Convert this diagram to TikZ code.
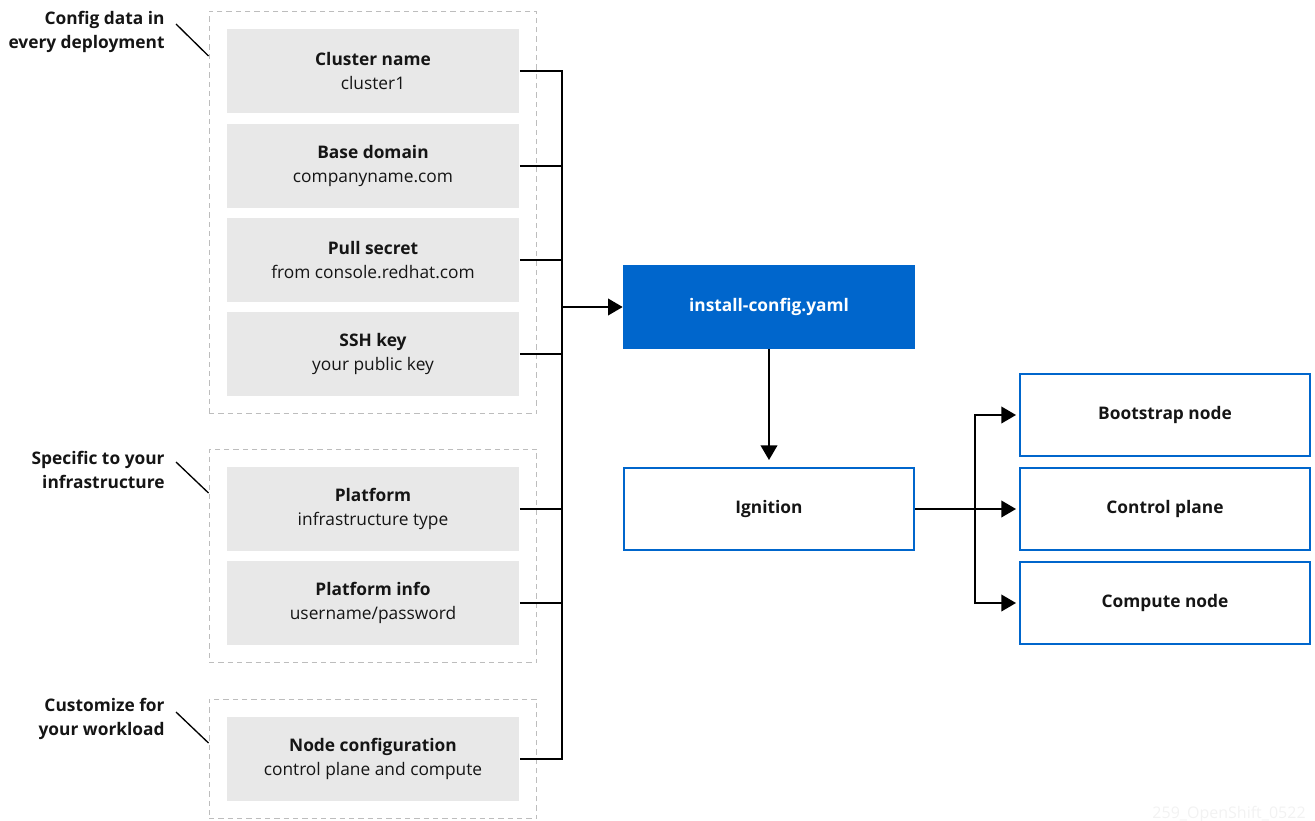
\documentclass[tikz,border=0pt]{standalone}
\usepackage{fontspec}
\setmainfont{Open Sans}
\usepackage{tikz}
\usetikzlibrary{fit}
\usetikzlibrary{arrows.meta}

\definecolor{rhblue}{HTML}{0066CC}
\definecolor{rhgray}{HTML}{E8E8E8}
\definecolor{rhdash}{HTML}{BDBDBD}
\definecolor{rhtext}{HTML}{151515}

\begin{document}
\begin{tikzpicture}[x=0.75pt, y=-0.75pt, line width=1.4pt,
  every node/.style={text=rhtext, font=\fontsize{13}{18}\selectfont},
  input/.style={fill=rhgray, minimum width=219pt, minimum height=63pt, inner sep=0pt, align=center},
  group/.style={draw=rhdash, dashed, dash pattern=on 4pt off 3pt, line width=0.8pt, inner sep=12.75pt},
  output/.style={draw=rhblue, line width=1.5pt, minimum width=218pt, minimum height=62pt, inner sep=0pt},
  note/.style={anchor=east, align=right},
  arr/.style={-{Triangle[length=11pt, width=12.5pt]}}]
\useasboundingbox (0,0) rectangle (1315,821);

% inputs
\node [input] (c1) at (373,71) {\textbf{Cluster name}\\cluster1};
\node [input] (c2) at (373,166) {\textbf{Base domain}\\companyname.com};
\node [input] (c3) at (373,260) {\textbf{Pull secret}\\from console.redhat.com};
\node [input] (c4) at (373,354) {\textbf{SSH key}\\your public key};
\node [input] (p1) at (373,509) {\textbf{Platform}\\infrastructure type};
\node [input] (p2) at (373,603) {\textbf{Platform info}\\username/password};
\node [input] (n1) at (373,759) {\textbf{Node configuration}\\control plane and compute};

\node [group, fit=(c1) (c4)] (g1) {};
\node [group, fit=(p1) (p2)] (g2) {};
\node [group, fit=(n1)] (g3) {};

% notes
\node [note] (l1) at (170,32) {\textbf{Config data in}\\\textbf{every deployment}};
\node [note] (l2) at (170,470) {\textbf{Specific to your}\\\textbf{infrastructure}};
\node [note] (l3) at (170,719) {\textbf{Customize for}\\\textbf{your workload}};
\coordinate (t1) at (176,24);
\coordinate (t2) at (176,462);
\coordinate (t3) at (176,712);
\draw [line width=1pt] (t1) -- (g1.west |- 0,56);
\draw [line width=1pt] (t2) -- (g2.west |- 0,493);
\draw [line width=1pt] (t3) -- (g3.west |- 0,743);

% outputs
\node [output, fill=rhblue, text=white] (yaml) at (769,307) {\textbf{install-config.yaml}};
\node [output] (ign) at (769,509) {\textbf{Ignition}};
\node [output] (boot) at (1165,415) {\textbf{Bootstrap node}};
\node [output] (ctrl) at (1165,509) {\textbf{Control plane}};
\node [output] (comp) at (1165,603) {\textbf{Compute node}};

% bus
\coordinate (bus) at (562,0);
\draw (c1.east) -- (c1.east -| bus) -- (n1.east -| bus) -- (n1.east);
\foreach \n in {c2,c3,c4,p1,p2}
  \draw (\n.east) -- (\n.east -| bus);
\draw [arr] (yaml.west -| bus) -- (yaml.west);
\draw [arr, shorten >=5pt] (yaml.south) -- (ign.north);

\coordinate (split) at (975,0);
\draw [arr, shorten >=2pt] (ign.east) -- (ctrl.west);
\draw [arr, shorten >=2pt] (ign.east -| split) |- (boot.west);
\draw [arr, shorten >=2pt] (ign.east -| split) |- (comp.west);

\node [text=black!5, font=\fontsize{12}{14}\selectfont, anchor=east] (tag) at (1311,814) {259\_OpenShift\_0522};
\end{tikzpicture}
\end{document}
